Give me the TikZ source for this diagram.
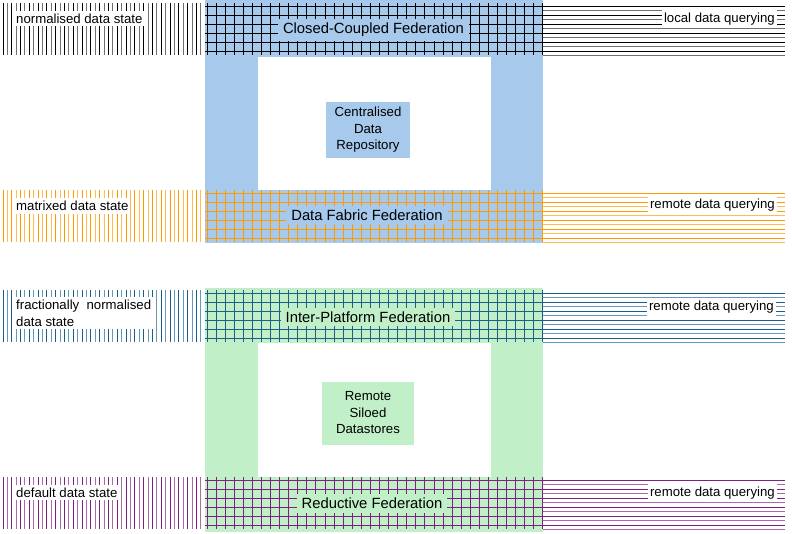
\documentclass[tikz,border=0pt]{standalone}
\usepackage{fontspec}
\setmainfont{Liberation Sans}
\definecolor{blueF}{HTML}{A6C9EC}
\definecolor{greenF}{HTML}{C1F0C8}
\definecolor{blkD}{HTML}{000000}
\definecolor{blkL}{HTML}{6F6F6F}
\definecolor{orgD}{HTML}{FF9900}
\definecolor{orgL}{HTML}{FFBB55}
\definecolor{tealD}{HTML}{1B5F87}
\definecolor{tealL}{HTML}{6797B8}
\definecolor{purD}{HTML}{7F1F7F}
\definecolor{purL}{HTML}{A86CA6}
\newcommand\hatchband[3]{%
  \foreach \k in {0,...,45} {%
    \pgfmathsetmacro\xx{floor(3+4.4*\k)+0.5}%
    \pgfmathsetmacro\cc{mod(\k,2)==0 ? 1 : 0}%
    \ifdim\cc pt>0.5pt \draw[#2,line width=1pt] (\xx,#1) -- ++(0,52);
    \else \draw[#3,line width=1pt] (\xx,#1) -- ++(0,52); \fi}
  \foreach \k in {0,...,37} {\pgfmathsetmacro\xx{floor(207+9.08*\k)+0.5}\draw[#2,line width=1.7pt] (\xx,#1) -- ++(0,52);}
  \foreach \k in {0,...,5} {\draw[#2,line width=1.7pt] (205,{#1+3.5+9*\k}) -- (543,{#1+3.5+9*\k});}
  \foreach \k in {0,...,5} {\draw[#2,line width=1pt] (543,{#1+3.5+9*\k}) -- (785,{#1+3.5+9*\k});}
  \foreach \k in {0,...,5} {\draw[#3,line width=1pt] (543,{#1+7.5+9*\k}) -- (785,{#1+7.5+9*\k});}
}
\tikzset{
  sidelab/.style={fill=white, inner xsep=2pt, inner ysep=3pt, font=\fontsize{13.2}{16.5}\selectfont, align=left},
  fedlab/.style={inner xsep=5pt, inner ysep=4pt, font=\fontsize{14.8}{17}\selectfont},
  centrelab/.style={inner xsep=4pt, inner ysep=4pt, font=\fontsize{13.2}{16.5}\selectfont, align=center},
}
\begin{document}
\begin{tikzpicture}[x=1pt,y=-1pt]
\useasboundingbox[fill=white] (0,0) rectangle (792,534);
% blue frame
\fill[blueF] (205,0) rectangle (543,243);
\fill[white] (258,57) rectangle (491,190);
% green frame
\fill[greenF] (205,288) rectangle (543,532);
\fill[white] (258,343) rectangle (491,477);
% bands
\hatchband{3}{blkD}{blkL}
\hatchband{190}{orgD}{orgL}
\hatchband{290}{tealD}{tealL}
\hatchband{477}{purD}{purL}
% federation labels
\node[fedlab, fill=blueF] (ccf) at (373.5,30) {Closed-Coupled Federation};
\node[fedlab, fill=blueF] (dff) at (367,215) {Data Fabric Federation};
\node[fedlab, fill=greenF] (ipf) at (368,317) {Inter-Platform Federation};
\node[fedlab, fill=greenF] (rf) at (372,503.5) {Reductive Federation};
% centre boxes
\node[centrelab, fill=blueF, minimum width=84pt, minimum height=56pt] (cdr) at (368,130) {Centralised\\Data\\Repository};
\node[centrelab, fill=greenF, minimum width=92pt, minimum height=63pt] (rsd) at (368,413) {Remote\\Siloed\\Datastores};
% left labels
\node[sidelab, anchor=west] (nds) at (14,18.5) {normalised data state};
\node[sidelab, anchor=west] (mds) at (14,206) {matrixed data state};
\node[sidelab, anchor=north west] (fnds) at (14,297) {fractionally\ \ normalised\\data state};
\node[sidelab, anchor=west] (dds) at (14,492.5) {default data state};
% right labels
\node[sidelab, anchor=east] (ldq) at (777,19) {local data querying};
\node[sidelab, anchor=east] (rdq1) at (777,205) {remote data querying};
\node[sidelab, anchor=east] (rdq2) at (776,307) {remote data querying};
\node[sidelab, anchor=east] (rdq3) at (777,493) {remote data querying};
\end{tikzpicture}
\end{document}
